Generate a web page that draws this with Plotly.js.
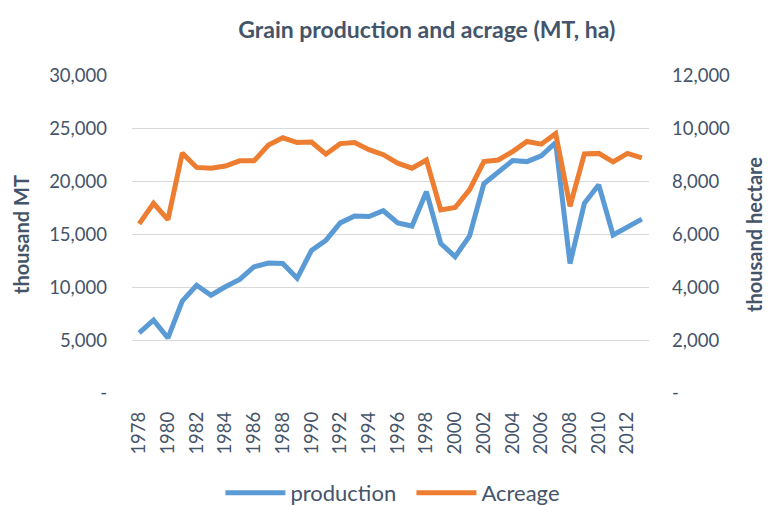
<!DOCTYPE html>
<html><head><meta charset="utf-8">
<script src="https://cdn.plot.ly/plotly-3.0.1.min.js"></script>
<style>html,body{margin:0;padding:0;background:#fff}#chart{width:769px;height:506px}</style>
</head><body><div id="chart"></div>
<script>
const years = [1978,1979,1980,1981,1982,1983,1984,1985,1986,1987,1988,1989,1990,1991,1992,1993,1994,1995,1996,1997,1998,1999,2000,2001,2002,2003,2004,2005,2006,2007,2008,2009,2010,2011,2012,2013];
const production = [5700,6900,5200,8700,10200,9250,10050,10750,11950,12300,12250,10850,13500,14450,16100,16750,16700,17250,16100,15800,19050,14150,12900,14850,19800,20850,22000,21900,22450,23700,12250,17950,19700,14950,15750,16450];
const acreage = [6400,7180,6560,9080,8540,8510,8590,8790,8790,9390,9660,9480,9500,9040,9440,9480,9210,9020,8700,8510,8820,6930,7020,7690,8760,8820,9140,9520,9420,9820,7070,9050,9070,8750,9070,8900];
const leftTicks = [0,5000,10000,15000,20000,25000,30000];
const leftText = ['-','5,000','10,000','15,000','20,000','25,000','30,000'];
const rightTicks = [0,2000,4000,6000,8000,10000,12000];
const rightText = ['-','2,000','4,000','6,000','8,000','10,000','12,000'];
const xTickVals = years.filter(y => (y - 1978) % 2 === 0);

const FONT = 'Lato, "Noto Sans", sans-serif';
const TXT = '#44546A';

const traces = [
  {x: years, y: production, name: 'production', type: 'scatter', mode: 'lines',
   line: {color: '#5B9BD5', width: 5, shape: 'linear'}, yaxis: 'y'},
  {x: years, y: acreage, name: 'Acreage', type: 'scatter', mode: 'lines',
   line: {color: '#ED7D31', width: 5, shape: 'linear'}, yaxis: 'y2'}
];

const layout = {
  width: 769, height: 506,
  margin: {l: 131.5, r: 119.5, t: 76, b: 113, pad: 0},
  paper_bgcolor: '#fff', plot_bgcolor: '#fff',
  font: {family: FONT, color: TXT, size: 18.5},
  title: {text: '<b>Grain production and acrage (MT, ha)</b>', x: 0.555, xanchor: 'center', y: 0.94, yanchor: 'middle',
          font: {family: FONT, size: 23, color: TXT}},
  showlegend: true,
  legend: {orientation: 'h', x: 0.535, xanchor: 'center', xref: 'container', yref: 'container', y: 0.026, yanchor: 'middle',
           font: {family: FONT, size: 22, color: TXT}, itemwidth: 60, entrywidth: 116, entrywidthmode: 'pixels'},
  xaxis: {type: 'linear', range: [1977.5, 2013.5], tickvals: xTickVals, ticktext: xTickVals.map(String),
          tickangle: -90, showgrid: false, zeroline: false, showline: false, ticks: '',
          ticklabelstandoff: 14, tickfont: {size: 18.5, color: TXT}},
  yaxis: {range: [0, 30000], tickvals: leftTicks, ticktext: leftText, showgrid: true, gridcolor: '#D9D9D9', gridwidth: 1,
          zeroline: false, showline: false, ticks: '', ticklabelstandoff: 24, tickfont: {size: 18.5, color: TXT},
          title: {text: '<b>thousand MT</b>', font: {size: 20, color: TXT}, standoff: 14}},
  yaxis2: {range: [0, 12000], tickvals: rightTicks, ticktext: rightText, overlaying: 'y', side: 'right',
           showgrid: false, zeroline: false, showline: false, ticks: '', ticklabelstandoff: 22, tickfont: {size: 18.5, color: TXT},
           title: {text: '<b>thousand hectare</b>', font: {size: 20, color: TXT}, standoff: 18}}
};

Plotly.newPlot('chart', traces, layout, {displayModeBar: false, staticPlot: true});
</script>
</body></html>
